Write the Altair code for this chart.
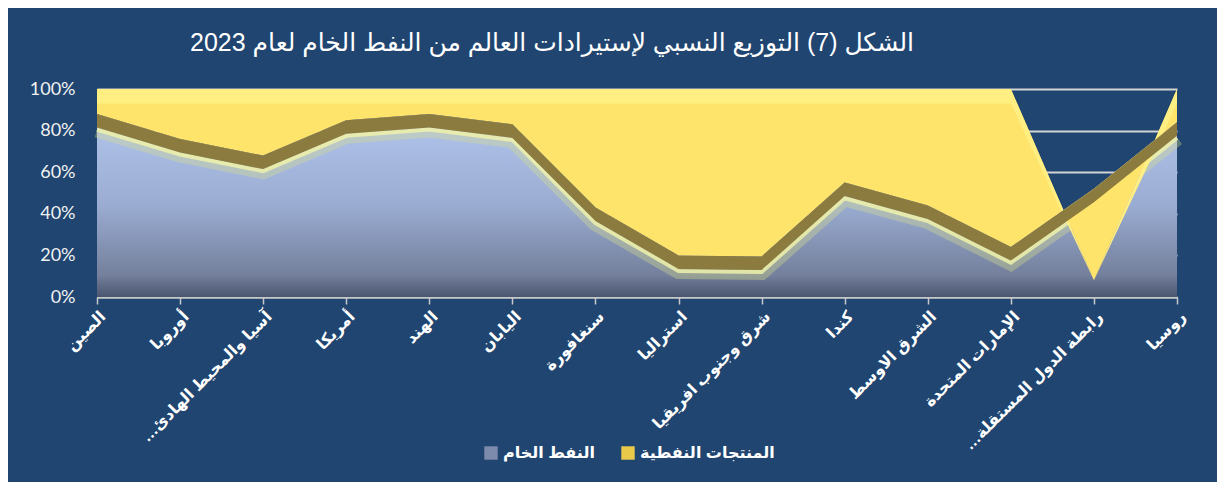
import altair as alt
import pandas as pd

countries = [
    "الصين", "أوروبا", "آسيا والمحيط الهادئ…\u200f", "أمريكا", "الهند", "اليابان",
    "سنغافورة", "استراليا", "شرق وجنوب افريقيا", "كندا", "الشرق الاوسط",
    "الإمارات المتحدة", "رابطة الدول المستقلة…\u200f", "روسيا",
]
crude = [88, 76, 68, 85, 88, 83, 43, 20, 19.5, 55, 44, 24, 52, 84]
products = [12, 24, 32, 15, 12, 17, 57, 80, 80.5, 45, 56, 76, -44, 16]
series_names = ["النفط الخام", "المنتجات النفطية"]
title_text = "الشكل (7) التوزيع النسبي لإستيرادات العالم من النفط الخام لعام 2023"

df = pd.DataFrame({"country": countries, "crude": crude, "products": products})
legend_df = pd.DataFrame({"series": series_names})

BG = "#1F4570"
FONT = "Liberation Sans, DejaVu Sans, sans-serif"

xenc = alt.X(
    "country:N", sort=countries, scale=alt.Scale(padding=0), title=None,
    axis=alt.Axis(labelAngle=315, labelColor="white", labelFontSize=16,
                  labelFontWeight="bold", labelFont=FONT, labelLimit=400,
                  labelPadding=4, domainColor="#C8C8C8", domainWidth=2,
                  tickColor="#C8C8C8", tickSize=7, tickWidth=1.5, grid=False),
)
yscale = alt.Scale(domain=[0, 100], nice=False)
yaxis = alt.Axis(values=[0, 20, 40, 60, 80, 100], labelExpr="datum.value + '%'",
                 labelColor="#F2F2F2", labelFontSize=18, labelFont="Lato",
                 labelPadding=22, domain=False, ticks=False, grid=True,
                 gridColor="#D4D4D4", gridWidth=2)

base = alt.Chart(df).transform_calculate(
    total="datum.crude + datum.products",
    band_lo="datum.crude - 6.5",
    glow="datum.crude - 7.5",
    strip_lo="(datum.crude + datum.products) >= 90 ? (datum.crude + datum.products - 7) : (datum.crude + datum.products)",
)

grad = alt.Gradient(
    gradient="linear", x1=0, x2=0, y1=0, y2=1,
    stops=[
        alt.GradientStop(color="#B2C5EC", offset=0),
        alt.GradientStop(color="#9AACD2", offset=0.5),
        alt.GradientStop(color="#74809C", offset=0.88),
        alt.GradientStop(color="#4A5570", offset=1),
    ],
)

crude_area = base.mark_area(color=grad).encode(
    x=xenc, y=alt.Y("crude:Q", scale=yscale, axis=yaxis, title=None)
)
glow_wide = base.mark_line(color="#D9E08C", strokeWidth=16, opacity=0.35).encode(
    x=xenc, y=alt.Y("glow:Q", scale=yscale)
)
glow_line = base.mark_line(color="#EEF1AA", strokeWidth=4, opacity=0.85).encode(
    x=xenc, y=alt.Y("glow:Q", scale=yscale)
)
prod_area = base.mark_area(color="#FFE46C").encode(
    x=xenc, y=alt.Y("total:Q", scale=yscale), y2="crude:Q"
)
top_strip = base.mark_area(color="#FFEE82").encode(
    x=xenc, y=alt.Y("total:Q", scale=yscale), y2="strip_lo:Q"
)
band = base.mark_area(color="#8C7B3F").encode(
    x=xenc, y=alt.Y("crude:Q", scale=yscale), y2="band_lo:Q"
)

legend_layer = alt.Chart(legend_df).mark_square(opacity=0).encode(
    color=alt.Color(
        "series:N",
        scale=alt.Scale(domain=series_names, range=["#7C8AAB", "#E9C94A"]),
        legend=alt.Legend(
            title=None, orient="none", legendX=386, legendY=356,
            direction="horizontal", symbolType="square", symbolSize=180,
            symbolOpacity=1, labelColor="white", labelFontSize=16,
            labelFontWeight="bold", labelFont=FONT, columnPadding=25,
            labelOffset=4,
        ),
    )
)

chart = alt.layer(
    crude_area, glow_wide, glow_line, prod_area, top_strip, band, legend_layer
).properties(
    width=1080, height=208,
    padding={"left": 89, "top": 81, "right": 40, "bottom": 185},
    autosize=alt.AutoSizeParams(type="none"),
    title=alt.TitleParams(title_text, color="white", fontSize=25, font=FONT,
                          fontWeight="normal", anchor="middle", dx=-85, offset=24),
).configure(background=BG).configure_view(stroke=None)

chart.save("out.html", embed_options={"renderer": "svg", "actions": False})
